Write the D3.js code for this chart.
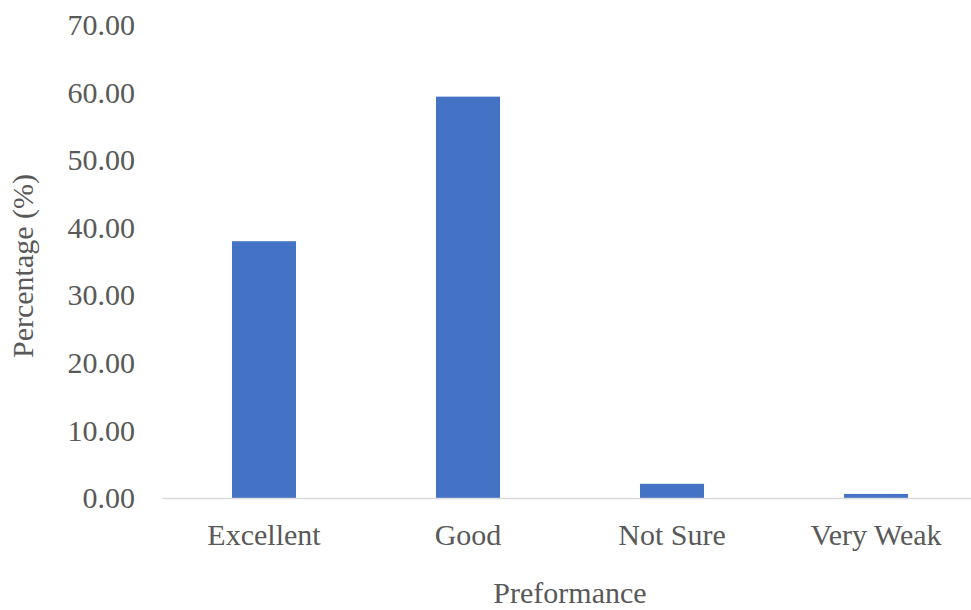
<!DOCTYPE html>
<html>
<head>
<meta charset="utf-8">
<script src="https://cdn.jsdelivr.net/npm/d3@7"></script>
<style>
  body { margin: 0; background: #fff; }
  text { font-family: "Liberation Serif", "Times New Roman", serif; fill: #595959; }
</style>
</head>
<body>
<div id="chart"></div>
<script>
const categories = ["Excellent", "Good", "Not Sure", "Very Weak"];
const values = [38.0, 59.4, 2.1, 0.6];
const yTicks = [0, 10, 20, 30, 40, 50, 60, 70];

const width = 971, height = 610;
const margin = { top: 25, right: -7, bottom: 112, left: 162 };

const svg = d3.select("#chart").append("svg")
  .attr("width", width)
  .attr("height", height);

const x = d3.scaleBand()
  .domain(categories)
  .range([margin.left, width - margin.right])
  .paddingInner(0.686)
  .paddingOuter(0.343);

const y = d3.scaleLinear()
  .domain([0, 70])
  .range([height - margin.bottom, margin.top]);

// y axis labels, no line
const yAxis = svg.append("g")
  .attr("transform", "translate(" + margin.left + ",0)")
  .call(d3.axisLeft(y).tickValues(yTicks).tickFormat(d3.format(".2f")).tickSize(0).tickPadding(27));
yAxis.select(".domain").remove();
yAxis.selectAll("text")
  .style("font-size", "30px")
  .attr("fill", "#595959");

// bars
svg.append("g")
  .selectAll("rect")
  .data(values)
  .enter()
  .append("rect")
  .attr("fill", "#4472C4")
  .attr("x", (d, i) => x(categories[i]))
  .attr("width", x.bandwidth())
  .attr("y", d => y(d))
  .attr("height", d => y(0) - y(d));

// x axis: baseline and labels
const xAxis = svg.append("g")
  .attr("transform", "translate(0," + y(0) + ")")
  .call(d3.axisBottom(x).tickSize(0).tickPadding(26));
xAxis.select(".domain")
  .attr("stroke", "#d9d9d9")
  .attr("stroke-width", 1.5);
xAxis.selectAll("text")
  .style("font-size", "30px")
  .attr("fill", "#595959");

// axis titles
svg.append("text")
  .attr("x", (margin.left + width - margin.right) / 2)
  .attr("y", 603)
  .attr("text-anchor", "middle")
  .style("font-size", "30px")
  .text("Preformance");

svg.append("text")
  .attr("transform", "translate(33," + 266 + ") rotate(-90)")
  .attr("text-anchor", "middle")
  .style("font-size", "30px")
  .text("Percentage (%)");
</script>
</body>
</html>
